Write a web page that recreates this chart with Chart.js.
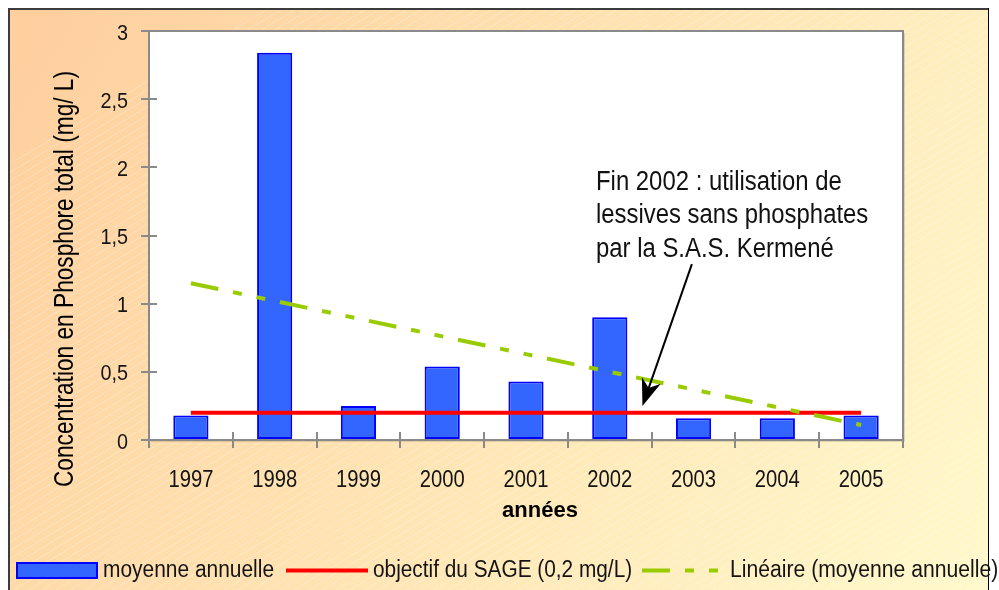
<!DOCTYPE html>
<html>
<head>
<meta charset="utf-8">
<script src="https://cdn.jsdelivr.net/npm/chart.js@4.4.1/dist/chart.umd.min.js"></script>
<style>
html,body{margin:0;padding:0;background:#fff;}
#wrap{width:999px;height:590px;position:relative;}
</style>
</head>
<body>
<div id="wrap"><canvas id="c" width="999" height="590"></canvas></div>
<script>
// ---- data ----
const years = ['1997', '1998', '1999', '2000', '2001', '2002', '2003', '2004', '2005'];
const moyenneAnnuelle = [0.18, 2.84, 0.25, 0.54, 0.43, 0.90, 0.16, 0.16, 0.18];
const objectifSage = [0.2, 0.2, 0.2, 0.2, 0.2, 0.2, 0.2, 0.2, 0.2];
const tendanceLineaire = [1.15, 1.02, 0.89, 0.76, 0.63, 0.50, 0.37, 0.24, 0.11];
const yTicks = [0, 0.5, 1, 1.5, 2, 2.5, 3];
const seriesNames = ['moyenne annuelle', 'objectif du SAGE (0,2 mg/L)', 'Linéaire (moyenne annuelle)'];
const xTitle = 'années';
const yTitle = 'Concentration en Phosphore total (mg/ L)';
const noteLines = ['Fin 2002 : utilisation de', 'lessives sans phosphates', 'par la S.A.S. Kermené'];
const noteArrowFrom = {x: 5.98, y: 1.29};
const noteArrowTo = {x: 5.39, y: 0.25};

const REG = "'Liberation Sans', Arial, sans-serif";
const AXIS_GREY = '#8a8a8a';
const TEXT = '#141414';
const BAR_FILL = '#3366FF', BAR_EDGE = '#0000FF';
const RED = '#FF0000', GREEN = '#99CC00';
const GREEN_DASH = [28, 15, 9, 15, 9, 15];

// draw text with a horizontal squeeze (narrow face substitute)
function narrowText(ctx, text, x, y, size, sx, align, rot) {
  ctx.save();
  ctx.translate(x, y);
  if (rot) ctx.rotate(rot);
  ctx.scale(sx, 1);
  ctx.font = size + 'px ' + REG;
  ctx.textAlign = align;
  ctx.textBaseline = 'alphabetic';
  ctx.fillText(text, 0, 0);
  ctx.restore();
}

const deco = {
  id: 'deco',
  beforeDraw(chart) {
    const ctx = chart.ctx, W = chart.width, H = chart.height;
    ctx.save();
    ctx.fillStyle = '#fff';
    ctx.fillRect(0, 0, W, H);
    const g = ctx.createLinearGradient(8, 8, 989, 590);
    g.addColorStop(0, '#FFCE9D');
    g.addColorStop(0.5, '#FFE4B3');
    g.addColorStop(1, '#FFF9CC');
    ctx.fillStyle = g;
    ctx.fillRect(9, 9, 980, H - 9);
    // faint diagonal hatch
    ctx.save();
    ctx.beginPath();
    ctx.rect(10, 10, 978, H - 10);
    ctx.clip();
    ctx.strokeStyle = 'rgba(255,255,255,0.28)';
    ctx.lineWidth = 1;
    ctx.beginPath();
    for (let k = -700; k < 1700; k += 14) {
      ctx.moveTo(k, H);
      ctx.lineTo(k + H / 0.6, 0);
    }
    ctx.stroke();
    ctx.restore();
    // frame
    ctx.fillStyle = '#3c3c3c';
    ctx.fillRect(8, 8, 2, H - 8);
    ctx.fillRect(8, 8, 981, 2);
    ctx.fillStyle = '#000';
    ctx.fillRect(988, 8, 1, H - 8);
    // plot area
    const a = chart.chartArea;
    ctx.fillStyle = 'rgba(0,0,0,0.12)';
    ctx.fillRect(a.left + 2, a.top + 2, a.right - a.left, a.bottom - a.top);
    ctx.fillStyle = '#fff';
    ctx.fillRect(a.left, a.top, a.right - a.left, a.bottom - a.top);
    ctx.strokeStyle = AXIS_GREY;
    ctx.lineWidth = 2;
    ctx.strokeRect(a.left, a.top, a.right - a.left, a.bottom - a.top);
    ctx.restore();
  },
  afterDraw(chart) {
    const ctx = chart.ctx, a = chart.chartArea;
    const xs = chart.scales.x, ys = chart.scales.y;
    ctx.save();
    // inner halves of the crossing tick marks
    ctx.strokeStyle = AXIS_GREY;
    ctx.lineWidth = 2;
    ctx.beginPath();
    yTicks.forEach(v => {
      const y = Math.round(ys.getPixelForValue(v));
      ctx.moveTo(a.left, y);
      ctx.lineTo(a.left + 8, y);
    });
    for (let i = 0; i <= years.length; i++) {
      const x = Math.round(xs.getPixelForValue(i - 0.5));
      ctx.moveTo(x, a.bottom);
      ctx.lineTo(x, a.bottom - 8);
    }
    ctx.stroke();

    // tick labels (positioned by the scales)
    ctx.fillStyle = TEXT;
    yTicks.forEach(v => {
      const y = ys.getPixelForValue(v);
      narrowText(ctx, String(v).replace('.', ','), a.left - 21, y + 8.5, 22, 0.9, 'right');
    });
    years.forEach((lab, i) => {
      narrowText(ctx, lab, xs.getPixelForValue(i), a.bottom + 47, 23.5, 0.86, 'center');
    });

    // axis titles
    ctx.fillStyle = '#000';
    ctx.font = 'bold 22px ' + REG;
    ctx.textAlign = 'center';
    ctx.textBaseline = 'alphabetic';
    ctx.fillText(xTitle, 540, 517);
    narrowText(ctx, yTitle, 73, 279, 28, 0.81, 'center', -Math.PI / 2);

    // annotation
    ctx.fillStyle = '#111';
    noteLines.forEach((t, i) => narrowText(ctx, t, 596, 189.5 + i * 33.6, 27, 0.885, 'left'));
    const x0 = xs.getPixelForValue(noteArrowFrom.x), y0 = ys.getPixelForValue(noteArrowFrom.y);
    const x1 = xs.getPixelForValue(noteArrowTo.x), y1 = ys.getPixelForValue(noteArrowTo.y);
    const dx = x1 - x0, dy = y1 - y0, L = Math.hypot(dx, dy);
    const ux = dx / L, uy = dy / L, px = -uy, py = ux;
    ctx.strokeStyle = '#000';
    ctx.lineWidth = 2;
    ctx.beginPath();
    ctx.moveTo(x0, y0);
    ctx.lineTo(x1 - ux * 16, y1 - uy * 16);
    ctx.stroke();
    ctx.fillStyle = '#000';
    ctx.beginPath();
    ctx.moveTo(x1, y1);
    ctx.lineTo(x1 - ux * 27 + px * 10, y1 - uy * 27 + py * 10);
    ctx.lineTo(x1 - ux * 19, y1 - uy * 19);
    ctx.lineTo(x1 - ux * 27 - px * 10, y1 - uy * 27 - py * 10);
    ctx.closePath();
    ctx.fill();

    // legend
    const ly = 570.5;
    ctx.fillStyle = BAR_FILL;
    ctx.fillRect(17, 563, 80, 15);
    ctx.strokeStyle = BAR_EDGE;
    ctx.lineWidth = 2;
    ctx.strokeRect(17, 563, 80, 15);
    ctx.lineWidth = 4;
    ctx.strokeStyle = RED;
    ctx.beginPath(); ctx.moveTo(286, ly); ctx.lineTo(368, ly); ctx.stroke();
    ctx.strokeStyle = GREEN;
    ctx.setLineDash(GREEN_DASH);
    ctx.beginPath(); ctx.moveTo(642, ly); ctx.lineTo(718, ly); ctx.stroke();
    ctx.setLineDash([]);
    ctx.fillStyle = TEXT;
    narrowText(ctx, seriesNames[0], 103, 577, 23, 0.91, 'left');
    narrowText(ctx, seriesNames[1], 373, 577, 23, 0.905, 'left');
    narrowText(ctx, seriesNames[2], 730, 577, 23, 0.92, 'left');
    ctx.restore();
  }
};

new Chart(document.getElementById('c'), {
  type: 'bar',
  data: {
    labels: years,
    datasets: [
      {
        label: seriesNames[0],
        data: moyenneAnnuelle,
        backgroundColor: BAR_FILL,
        borderColor: BAR_EDGE,
        borderWidth: 2,
        borderSkipped: false,
        barPercentage: 0.42,
        categoryPercentage: 1,
        order: 3
      },
      {
        type: 'line',
        label: seriesNames[1],
        data: objectifSage,
        borderColor: RED,
        backgroundColor: RED,
        borderWidth: 4,
        pointRadius: 0,
        tension: 0,
        order: 2
      },
      {
        type: 'line',
        label: seriesNames[2],
        data: tendanceLineaire,
        borderColor: GREEN,
        backgroundColor: GREEN,
        borderWidth: 4,
        borderDash: GREEN_DASH,
        pointRadius: 0,
        tension: 0,
        order: 1
      }
    ]
  },
  options: {
    responsive: false,
    animation: false,
    devicePixelRatio: 1,
    layout: {padding: {left: 0, top: 31, right: 96, bottom: 0}},
    plugins: {legend: {display: false}, tooltip: {enabled: false}, title: {display: false}},
    scales: {
      x: {
        offset: true,
        grid: {display: true, offset: true, drawOnChartArea: false, drawTicks: true, tickLength: 8, color: AXIS_GREY, lineWidth: 2},
        border: {display: true, color: AXIS_GREY, width: 2},
        ticks: {display: false},
        afterFit(s) { s.height = 150; }
      },
      y: {
        min: 0, max: 3,
        afterBuildTicks(s) { s.ticks = yTicks.map(v => ({value: v})); },
        grid: {display: true, drawOnChartArea: false, drawTicks: true, tickLength: 8, color: AXIS_GREY, lineWidth: 2},
        border: {display: true, color: AXIS_GREY, width: 2},
        ticks: {display: false},
        afterFit(s) { s.width = 149; }
      }
    }
  },
  plugins: [deco]
});
</script>
</body>
</html>
